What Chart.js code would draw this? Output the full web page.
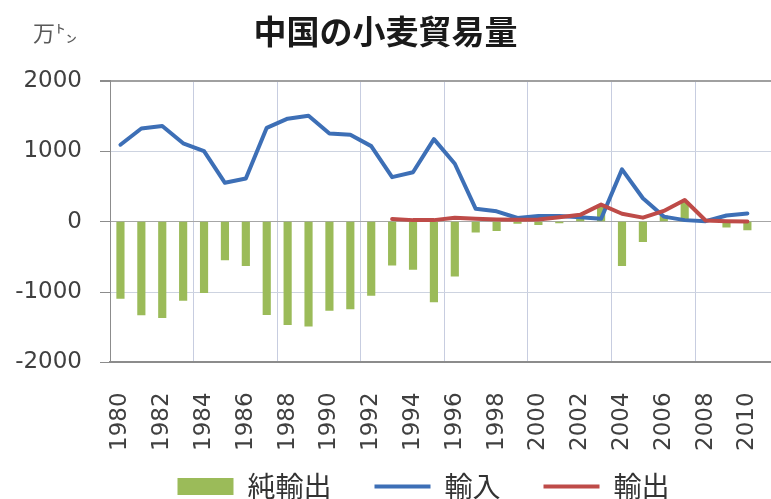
<!DOCTYPE html>
<html lang="ja">
<head>
<meta charset="utf-8">
<title>中国の小麦貿易量</title>
<script src="https://cdn.jsdelivr.net/npm/chart.js@4.4.1/dist/chart.umd.min.js"></script>
<style>
  html, body { margin: 0; padding: 0; background: #fff; overflow: hidden; }
  canvas { display: block; }
</style>
</head>
<body>
<canvas id="wheatChart" width="771" height="499"></canvas>
<script>
// 年（1980〜2010）
var years = [1980, 1981, 1982, 1983, 1984, 1985, 1986, 1987, 1988, 1989,
             1990, 1991, 1992, 1993, 1994, 1995, 1996, 1997, 1998, 1999,
             2000, 2001, 2002, 2003, 2004, 2005, 2006, 2007, 2008, 2009, 2010];

// 純輸出（万トン）
var netExport = [-1090, -1325, -1365, -1120, -1010, -545, -625, -1320, -1465, -1485,
                 -1260, -1240, -1050, -620, -680, -1140, -775, -150, -130, -25,
                 -45, -20, 35, 200, -625, -285, 80, 285, 10, -80, -120];

// 輸入（万トン）
var imports = [1090, 1320, 1355, 1110, 1000, 550, 610, 1330, 1460, 1500,
               1250, 1230, 1070, 630, 700, 1170, 820, 180, 145, 50,
               80, 80, 60, 40, 740, 330, 70, 20, 5, 85, 115];

// 輸出（万トン）1993年から
var exports = [null, null, null, null, null, null, null, null, null, null,
               null, null, null, 35, 20, 20, 55, 40, 30, 25,
               30, 60, 95, 240, 110, 55, 150, 305, 15, 5, 0];

var yTicks = [-2000, -1000, 0, 1000, 2000];
var unitText = '万㌧';

function toPoints(values) {
  return years.map(function (yr, i) { return { x: yr, y: values[i] }; });
}

var tickFont = { family: '"DejaVu Sans"', size: 23, lineHeight: 1 };
var cjkFont = '"Noto Sans CJK JP"';

// 左上の単位
var unitLabel = {
  id: 'unitLabel',
  afterDraw: function (chart) {
    var ctx = chart.ctx;
    ctx.save();
    ctx.font = '22px ' + cjkFont;
    ctx.fillStyle = '#595959';
    ctx.textAlign = 'left';
    ctx.textBaseline = 'middle';
    ctx.fillText(unitText, 33, 33);
    ctx.restore();
  }
};

// 凡例を年ラベルのすぐ下へ寄せる（凡例の箱を上に広げ、少し左へ）
var legendLift = {
  id: 'legendLift',
  afterLayout: function (chart) {
    var lg = chart.legend;
    lg.top = chart.chartArea.bottom + 110 - lg.options.labels.padding;
    lg.bottom = chart.height;
    lg.height = lg.bottom - lg.top;
    lg.left -= 17;
    lg.right -= 17;
  }
};

var ctx = document.getElementById('wheatChart');
var wheatChart = new Chart(ctx, {
  type: 'bar',
  data: {
    datasets: [
      {
        type: 'bar',
        label: '純輸出',
        data: toPoints(netExport),
        backgroundColor: '#9bbb59',
        borderWidth: 0,
        barThickness: 7.5,
        pointStyle: 'rect',
        order: 3
      },
      {
        type: 'line',
        label: '輸入',
        data: toPoints(imports),
        borderColor: '#3d6fb6',
        backgroundColor: '#3d6fb6',
        borderWidth: 4,
        pointRadius: 0,
        tension: 0,
        borderJoinStyle: 'round',
        borderCapStyle: 'round',
        pointStyle: 'line',
        order: 2
      },
      {
        type: 'line',
        label: '輸出',
        data: toPoints(exports),
        borderColor: '#be4b48',
        backgroundColor: '#be4b48',
        borderWidth: 4,
        pointRadius: 0,
        tension: 0,
        borderJoinStyle: 'round',
        borderCapStyle: 'round',
        pointStyle: 'line',
        order: 1
      }
    ]
  },
  options: {
    responsive: false,
    animation: false,
    devicePixelRatio: 1,
    layout: { padding: 0 },
    plugins: {
      title: {
        display: true,
        text: '中国の小麦貿易量',
        color: '#1a1a1a',
        font: { family: cjkFont, size: 33, weight: 'bold' },
        padding: { top: 12, bottom: 29 }
      },
      legend: {
        position: 'bottom',
        fullSize: false,
        maxHeight: 48,
        labels: {
          usePointStyle: true,
          pointStyleWidth: 56,
          boxHeight: 17,
          padding: 43,
          color: '#333',
          font: { family: cjkFont, size: 28 },
          sort: function (a, b) { return a.datasetIndex - b.datasetIndex; }
        }
      },
      tooltip: { enabled: false }
    },
    scales: {
      x: {
        type: 'linear',
        min: years[0] - 0.5,
        max: 2011.13,
        offset: false,
        // 2年ごとの年ラベルと、4年ごとの区切り線
        afterBuildTicks: function (axis) {
          var ticks = [];
          years.forEach(function (yr, i) {
            if (i > 0 && yr % 4 === 0) ticks.push({ value: yr - 0.5 });
            if (yr % 2 === 0) ticks.push({ value: yr });
          });
          axis.ticks = ticks;
        },
        ticks: {
          autoSkip: false,
          minRotation: 90,
          maxRotation: 90,
          padding: 0,
          color: '#404040',
          font: tickFont,
          callback: function (value) {
            return Number.isInteger(value) ? String(value) : '';
          }
        },
        grid: {
          offset: false,
          drawTicks: true,
          tickLength: 30,
          tickColor: 'rgba(0,0,0,0)',
          lineWidth: 1,
          color: function (c) {
            var v = c.tick ? c.tick.value : 0;
            return Number.isInteger(v) ? 'rgba(0,0,0,0)' : '#c7cde0';
          }
        },
        border: { color: '#8c8c8c', width: 2 }
      },
      y: {
        min: yTicks[0],
        max: yTicks[yTicks.length - 1],
        afterFit: function (axis) { axis.width = 110; },
        afterBuildTicks: function (axis) {
          axis.ticks = yTicks.map(function (v) { return { value: v }; });
        },
        ticks: {
          padding: 18,
          color: '#404040',
          font: { family: '"DejaVu Sans"', size: 23 },
          callback: function (value) { return String(value); }
        },
        grid: {
          tickLength: 10,
          tickColor: '#8c8c8c',
          lineWidth: function (c) {
            var v = c.tick ? c.tick.value : 0;
            return v === yTicks[yTicks.length - 1] ? 2 : 1;
          },
          color: function (c) {
            var v = c.tick ? c.tick.value : 0;
            if (v === 0) return '#a6a6a6';
            if (v === yTicks[yTicks.length - 1]) return '#a0a0a0';
            return '#cdd3e0';
          }
        },
        border: { color: '#8c8c8c', width: 1 }
      }
    }
  },
  plugins: [unitLabel, legendLift]
});
</script>
</body>
</html>
